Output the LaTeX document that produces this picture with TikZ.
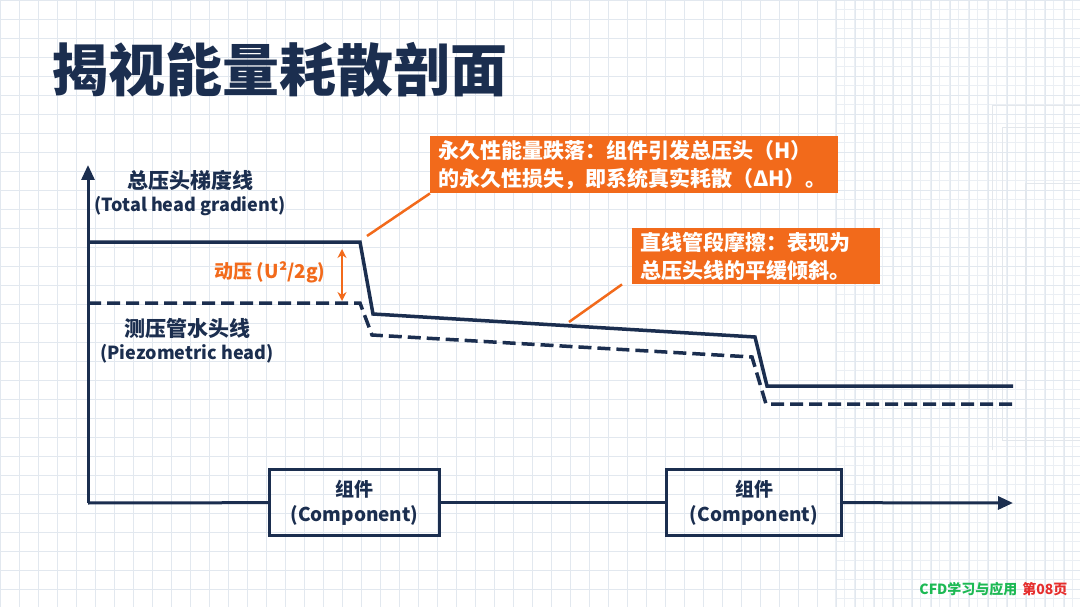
\documentclass[tikz,border=0pt]{standalone}
\usepackage{fontspec}
\setmainfont{Noto Sans CJK SC}
\newfontfamily\heavyfont{Noto Sans CJK SC Black}
\usetikzlibrary{arrows.meta}
\definecolor{navy}{HTML}{1B2E4F}
\definecolor{callout}{HTML}{F26A1B}
\definecolor{gridblue}{HTML}{E2E8EF}
\definecolor{gridfine}{HTML}{EBEFF4}
\definecolor{footgreen}{HTML}{1DB954}
\definecolor{footred}{HTML}{E62E2D}
\newcommand\cjkline[1]{{\fontsize{21}{23}\selectfont #1}}

\begin{document}
\begin{tikzpicture}[
  x=1pt, y=-1pt,
  gridline/.style={gridblue, line width=0.7pt},
  fineline/.style={gridfine, line width=0.5pt},
  head/.style={navy, line width=3.5pt, line join=miter},
  piezo/.style={head, dash pattern=on 13pt off 6pt},
  axisline/.style={navy, line width=3pt},
  axistip/.style={-{Triangle[width=13pt,length=15pt]}},
  compbox/.style={draw=navy, line width=3pt, minimum width=170pt, minimum height=66pt,
    align=center, text=navy, font=\bfseries\fontsize{19}{25}\selectfont},
  notebox/.style={fill=callout, text=white, align=left, anchor=north west,
    inner xsep=8pt, font=\bfseries\fontsize{21}{28}\selectfont},
  lbl/.style={text=navy, align=center, font=\bfseries\fontsize{18}{23}\selectfont},
  leader/.style={callout, line width=2.5pt},
]
\useasboundingbox (0,0) rectangle (1080,607);
\fill[white] (0,0) rectangle (1080,607);
\foreach \gx in {835,844.5,...,1080} \draw[fineline] (\gx,0) -- (\gx,607);
\foreach \gy in {0,9.5,...,607} \draw[fineline] (835,\gy) -- (1080,\gy);
\foreach \gx in {0,19,...,1080} \draw[gridline] (\gx,0) -- (\gx,607);
\foreach \gy in {0,19,...,607} \draw[gridline] (0,\gy) -- (1080,\gy);
\draw[gridblue!80!navy!40, line width=0.7pt] (992,450) -- (992,105) -- (1080,105);
\draw[gridblue!80!navy!40, line width=0.7pt] (1080,440) -- (1002,440) -- (1002,127) -- (1080,127);
\draw[gridblue!80!navy!40, line width=0.7pt] (1025,450) -- (1025,183) -- (1080,183);

\node[anchor=west, text=navy, font=\heavyfont\fontsize{57}{60}\selectfont] (title) at (48,70) {揭视能量耗散剖面};

\coordinate (origin) at (88,503);
\coordinate (ytip) at (88,165);
\coordinate (xtip) at (1013,503);

\node[compbox] (comp1) at (354.5,502.5) {组件\\(Component)};
\node[compbox, minimum width=175pt] (comp2) at (754,502.5) {组件\\(Component)};

\draw[axisline, axistip] (origin) -- (ytip);
\draw[axisline] (origin) -- (comp1);
\draw[axisline] (comp1) -- (comp2);
\draw[axisline, axistip] (comp2) -- (xtip);

\draw[head] (88,242) -- (360,242) -- (373,314) -- (755,337) -- (767,386) -- (1013,386);
\draw[piezo] (88,303) -- (360,303) -- (372,335) -- (752,357) -- (766,404) -- (1013,404);

\node[lbl] (totallbl) at (190,193) {\cjkline{总压头梯度线}\\(Total head gradient)};
\node[lbl] (piezolbl) at (187,341) {\cjkline{测压管水头线}\\(Piezometric head)};

\coordinate (dyntop) at (342,249);
\coordinate (dynbot) at (342,301);
\draw[callout, line width=2.5pt, {Stealth[length=9pt,width=9pt]}-{Stealth[length=9pt,width=9pt]}] (dyntop) -- (dynbot);
\node[anchor=east, text=callout, font=\bfseries\fontsize{19}{23}\selectfont] (dynlbl) at (329,272) {动压 (U²/2g)};

\node[notebox, text width=392pt, minimum height=57pt] (lossnote) at (430,136)
  {永久性能量跌落：组件引发总压头（H）\\的永久性损失，即系统真实耗散（ΔH）。};
\node[notebox, text width=232pt, minimum height=56pt] (frictionnote) at (632,228)
  {直线管段摩擦：表现为\\总压头线的平缓倾斜。};

\coordinate (lossend) at (367,236);
\coordinate (frictionend) at (569,322);
\draw[leader] (lossnote.south west) -- (lossend);
\draw[leader] ([xshift=-10pt]frictionnote.south west) -- (frictionend);

\node[anchor=east, font=\heavyfont\fontsize{14}{16}\selectfont] (footer) at (1071,589)
  {\textcolor{footgreen}{CFD学习与应用}\hspace{5pt}\textcolor{footred}{第08页}};
\end{tikzpicture}
\end{document}
